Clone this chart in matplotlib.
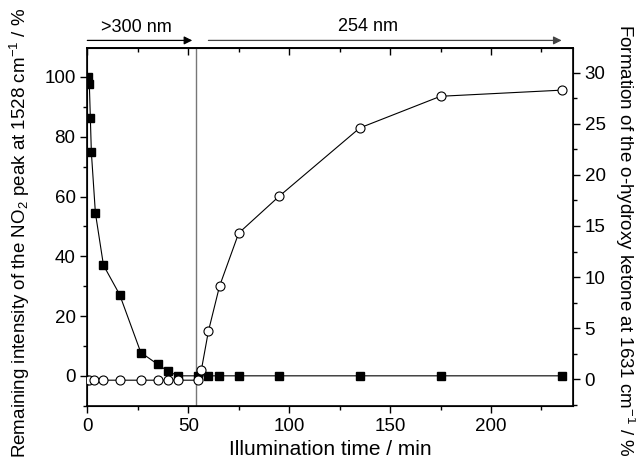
import matplotlib
matplotlib.use("Agg")
import matplotlib.pyplot as plt
from matplotlib.ticker import MultipleLocator

plt.rcParams["font.family"] = ["Liberation Sans", "DejaVu Sans"]
plt.rcParams["mathtext.fontset"] = "custom"
plt.rcParams["mathtext.rm"] = "Liberation Sans"
plt.rcParams["mathtext.it"] = "Liberation Sans:italic"

# NO2 peak (left axis), filled squares
t_no2 = [0.5, 1, 1.5, 2, 4, 8, 16, 26.5, 35, 40, 45, 55, 60, 65, 75, 95, 135, 175, 235]
no2 = [100, 97.5, 86.3, 74.8, 54.5, 37.0, 27.2, 7.8, 3.8, 1.5, 0, 0, 0, 0, 0, 0, 0, 0, 0]

# o-hydroxy ketone (right axis), open circles
t_ket = [0, 1, 3.5, 8, 16, 26.5, 35, 40, 45, 55, 56.5, 60, 65.5, 75, 95, 135, 175, 235]
ket = [-0.1, -0.1, -0.1, -0.1, -0.1, -0.1, -0.1, -0.1, -0.1, -0.1,
       0.9, 4.7, 9.1, 14.3, 17.9, 24.6, 27.7, 28.3]

switch_time = 53.7

fig = plt.figure(figsize=(6.36, 4.71), dpi=100)
ax = fig.add_axes([0.1373, 0.1386, 0.7632, 0.7589])
ax2 = ax.twinx()

ax.plot(t_no2, no2, color="black", lw=0.8, marker="s", ms=6,
        mfc="black", mec="black", zorder=3)
ax2.plot(t_ket, ket, color="black", lw=0.8, marker="o", ms=6.5,
         mfc="white", mec="black", mew=0.8, zorder=3)

ax.axvline(switch_time, color="#777777", lw=1.0, zorder=1)

ax.set_xlim(0, 240.5)
ax.set_ylim(-10, 109.6)
ax2.set_ylim(-2.6, 32.4)

ax.xaxis.set_major_locator(MultipleLocator(50))
ax.xaxis.set_minor_locator(MultipleLocator(25))
ax.yaxis.set_major_locator(MultipleLocator(20))
ax.yaxis.set_minor_locator(MultipleLocator(10))
ax2.yaxis.set_major_locator(MultipleLocator(5))
ax2.yaxis.set_minor_locator(MultipleLocator(2.5))

ax.tick_params(which="both", direction="out", labelsize=13.5, width=1)
ax.tick_params(which="major", length=5)
ax.tick_params(which="minor", length=3)
ax2.tick_params(axis="y", which="both", direction="out", width=1, labelsize=13.5)
ax2.tick_params(axis="y", which="major", length=5)
ax2.tick_params(axis="y", which="minor", length=3)

# mirrored ticks on top, pointing inward
top = ax.secondary_xaxis("top")
top.xaxis.set_major_locator(MultipleLocator(50))
top.xaxis.set_minor_locator(MultipleLocator(25))
top.tick_params(which="both", direction="in", labeltop=False, width=1)
top.tick_params(which="major", length=5)
top.tick_params(which="minor", length=3)
top.spines["top"].set_linewidth(1.2)

for sp in ax.spines.values():
    sp.set_linewidth(1.2)

ax.set_xlabel("Illumination time / min", fontsize=15, labelpad=4)
fig.text(0.0314, 0.505,
         "Remaining intensity of the NO$_2$ peak at 1528 cm$^{-1}$ / %",
         fontsize=13.5, rotation=90, ha="center", va="center")
fig.text(0.982, 0.49,
         "Formation of the o-hydroxy ketone at 1631 cm$^{-1}$ / %",
         fontsize=13.5, rotation=-90, ha="center", va="center")

# illumination wavelength arrows above the plot
ax.annotate("", xy=(52, 1.022), xycoords=("data", "axes fraction"),
            xytext=(0, 1.022), textcoords=("data", "axes fraction"),
            arrowprops=dict(arrowstyle="-|>", color="black", lw=0.9,
                            mutation_scale=12, shrinkA=0, shrinkB=0))
ax.text(24.5, 1.058, ">300 nm", transform=ax.get_xaxis_transform(),
        ha="center", va="center", fontsize=13)
ax.annotate("", xy=(235, 1.022), xycoords=("data", "axes fraction"),
            xytext=(60, 1.022), textcoords=("data", "axes fraction"),
            arrowprops=dict(arrowstyle="-|>", color="#444444", lw=0.9,
                            mutation_scale=12, shrinkA=0, shrinkB=0))
ax.text(139, 1.062, "254 nm", transform=ax.get_xaxis_transform(),
        ha="center", va="center", fontsize=13)

fig.savefig("out.png", dpi=100)
